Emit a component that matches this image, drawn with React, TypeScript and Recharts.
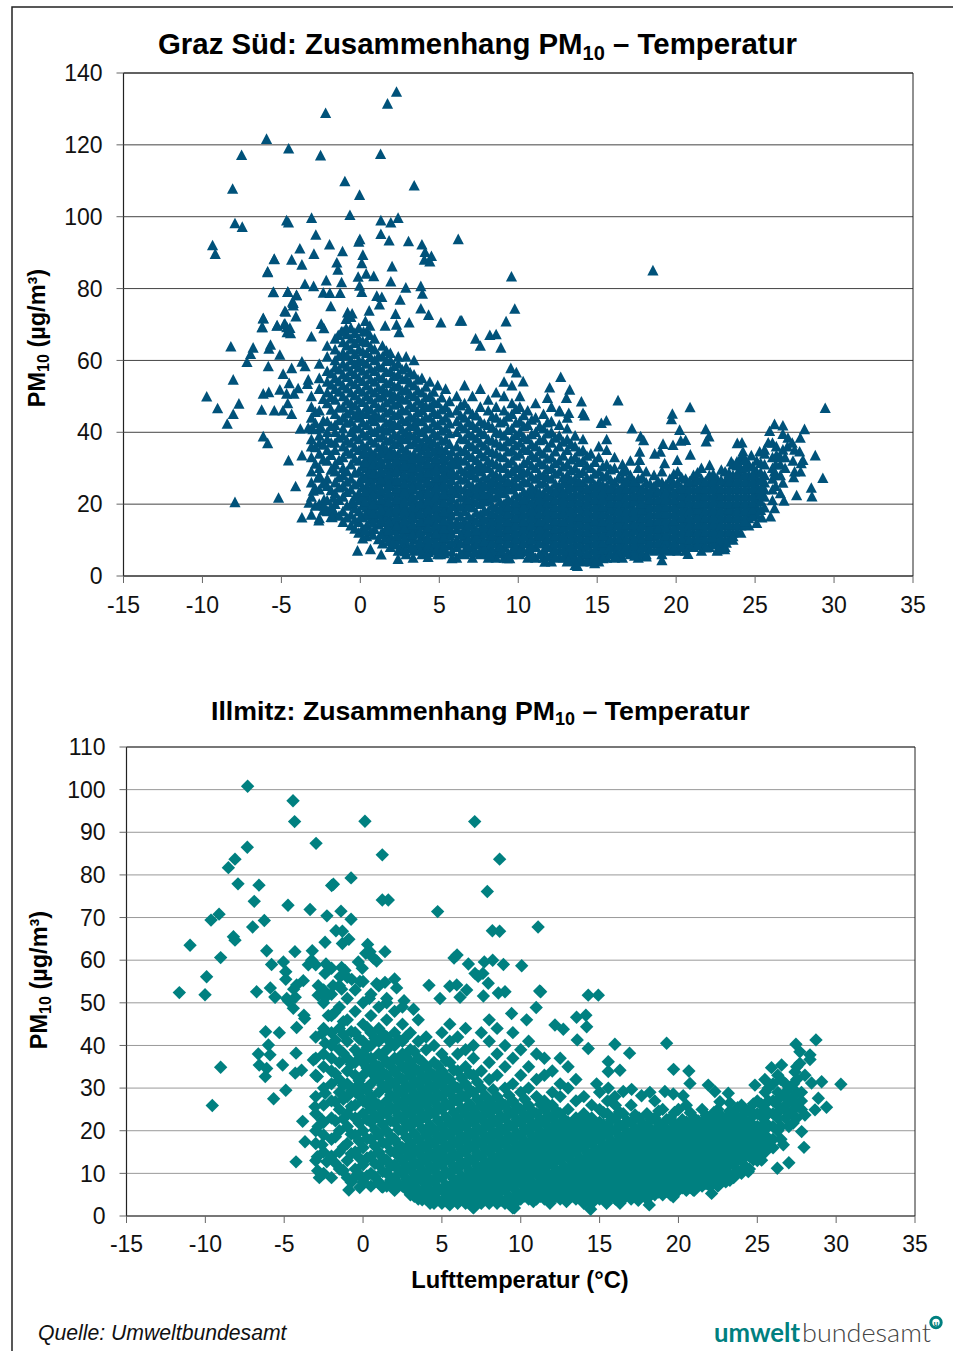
import React from "react";
import { ScatterChart, Scatter, XAxis, YAxis, CartesianGrid, ReferenceLine } from "recharts";

type Pair = [number, number];

const xTicks = [-15, -10, -5, 0, 5, 10, 15, 20, 25, 30, 35];
const grazYTicks = [0, 20, 40, 60, 80, 100, 120, 140];
const illmitzYTicks = [0, 10, 20, 30, 40, 50, 60, 70, 80, 90, 100, 110];

const grazUpper: Pair[] = [
  [2.29,134.7],[1.72,131.4],[-2.2,128.8],[-5.94,121.6],[-4.54,118.9],[-7.52,117.1],[-2.52,117],[1.28,117.4],
  [-8.09,107.7],[-0.98,109.8],[3.41,108.6],[-0.05,106],[-7.94,98.1],[-7.48,97.1],[-4.67,98.9],[-4.55,98.3],
  [-3.09,99.6],[-0.66,100.4],[1.3,98.9],[1.93,98.3],[2.39,99.6],[-9.36,92],[-9.19,89.6],[-2.82,94.9],
  [-0.03,93.7],[-0.1,93],[1.3,95.1],[1.82,93.3],[-1.95,92.2],[-3.83,91.1],[-2.94,89.6],[-1.13,90.3],
  [0.16,89.3],[0.09,87],[-1.49,87.2],[-1.42,85.2],[-5.46,88.1],[-4.35,88],[-3.7,86.6],[-5.87,84.5],
  [2.01,86.1],[0.37,84.1],[0.85,83.4],[-0.14,83.2],[-2.16,82.2],[-1.19,81.7],[1.93,81.9],[-3.51,81.2],
  [-2.96,80.6],[-0.05,80.7],[2.88,80.2],[3.83,80.6],[3.93,78.5],[-5.5,79],[-4.59,79],[-2.35,78.8],
  [-1.93,78.7],[-1.28,78.7],[0.09,79],[-4.04,78.1],[1.04,77.9],[1.36,77.6],[2.52,76.8],[1.21,75.5],
  [-4.29,76.3],[-4.25,75.2],[-1.87,75],[3.83,74.4],[-4.78,73.7],[-0.81,73.3],[-0.52,73],[0.56,73.8],
  [2.23,72.9],[4.32,72.6],[-4.08,72.2],[-6.15,71.6],[-6.23,69.2],[6.32,71],[6.42,71],[-0.9,71.5],
  [3.09,70.5],[-2.48,70.1],[-2.31,68.9],[-5.27,69.7],[-4.82,70.1],[-4.66,69.2],[-4.64,67.8],[1.57,69.6],
  [2.29,69.9],[2.45,67.8],[0.32,70.9],[0.6,69.6],[0.2,68],[0.6,67],[-0.9,68.9],[-1.2,68],[-1.4,67],[-3.1,66.6],
  [3.05,93.1],[4.1,90.1],[4.05,88],[4.4,87.5],[3.9,92.2],[6.2,93.7],[9.57,83.3],[9.78,74.3],[9.23,70.8],
  [18.53,85],[4.5,89],[5.1,70.5],[7.3,66],[8.2,67],[8.6,67.2],[7.6,64],[8.9,63.5],
];

const grazLeft: Pair[] = [
  [-8.2,63.8],[-6.79,63.5],[-6.95,61.7],[-7.18,59.5],[-5.69,64.3],[-5.79,63.2],[-5.1,61.5],[-6.15,71.7],
  [-6.2,69.2],[-5.28,69.6],[-4.77,70.1],[-4.46,69],[-4.42,67.5],[-4.73,73.5],[-4.25,75.9],[-5.52,78.9],
  [-4.6,79],[-4.04,78.1],[-5.87,84.7],[-5.45,88.2],[-5.83,58.3],[-8.05,54.6],[-9.73,49.9],[-9.04,46.6],
  [-7.69,47.9],[-8.05,45],[-8.43,42.3],[-6.15,50.7],[-5.8,51.1],[-6.25,46.2],[-5.45,46],[-5.1,51.8],
  [-4.89,56.2],[-4.51,53.6],[-4.67,50.7],[-3.94,52.2],[-4.2,50.7],[-4.9,46],[-4.6,48],[-4.35,45],
  [-4.35,57.8],[-3.5,58.3],[-3.7,59.6],[-3.3,54.6],[-3.35,53.4],[-6.15,38.8],[-5.87,36.9],[-4.55,32.1],
  [-3.7,33.5],[-4.1,24.9],[-5.18,21.7],[-7.94,20.5],[-3.25,20.3],[-3.7,16.2],[-2.63,15.4],[-0.18,7],
  [0.64,7.4],[1.32,5.9],[2.39,4.7],[3.34,5],[4.29,5.2],[5.08,6],[5.8,4.9],[7.2,6.5],[8.16,5.9],[9.3,4.9],
  [2.84,6.8],[2.05,8.9],[0.3,12.7],[0,16.3],[-1.72,18.4],[-1.78,16.3],[-2.3,21.2],[-2.3,19.5],[-2.98,23.7],
  [-2.67,27.3],[-1.7,21.7],[-0.44,20.3],[-3.8,40.9],[-3.3,41.2],[-3,40.8],[-2.5,41.5],
];

const grazRight: Pair[] = [
  [9.53,57.8],[9.88,56.6],[10.31,54.1],[12.69,55.3],[11.99,52.4],[11.85,49.5],[13.26,51.8],[13.05,49.5],
  [14,48.5],[14.1,45.3],[14.2,44.6],[16.32,48.8],[12.65,45.7],[13.2,45.3],[15.58,43.2],[15.26,42.5],
  [19.76,45.1],[19.7,43.6],[20.88,46.9],[17.2,41],[17.75,38.8],[17.94,37.7],[20.22,40.6],[20.6,37.8],
  [20.29,37.6],[21.87,40.8],[22.08,38.8],[21.9,37.4],[20.9,33.7],[19.17,36.7],[19.8,36.4],[18.64,34],
  [19,34.5],[19.27,31.3],[20.07,32.2],[17.69,34.5],[17.69,32.2],[22.12,30.8],[22.86,29.5],[23.28,27.8],
  [23.87,36.9],[24.17,37.1],[24.23,34.6],[23.49,31.8],[23.85,31.8],[24.34,32.2],[24.76,33.5],[25.29,34.6],
  [25.6,35.1],[25.92,40.3],[26.23,42.2],[26.76,41.8],[26.76,39.5],[27.08,38.4],[28.13,40.8],[27.86,38.4],
  [25.83,37.1],[26.34,36],[26.76,35.1],[27.5,35.1],[27.82,34.6],[28.03,32.2],[27.92,31.3],[28.81,33.5],
  [29.44,46.7],[29.29,27.2],[27.5,29],[27.88,29],[27.44,27.4],[26.76,25.9],[26.23,29],[28.56,24.5],[28.6,22.1],
  [27.63,22.4],[26.83,20.9],[26.23,18.8],[25.98,16.5],[25.43,16.2],[25.1,14.7],[24.34,15.2],[23.6,11],
  [23.18,9.2],[23.07,7.4],[22.65,7.4],[21.91,7.9],[20.75,6.1],[19.1,4.3],[19.27,7.5],[18.11,5.4],[17.37,5.6],
  [13.75,2.7],[14.84,3.5],[15.37,4.9],[16.2,5.3],[13.16,4.3],[11.68,3.9],[10.94,5.4],[10.1,6.6],[9.46,4.9],[8.94,7],
  [26.3,25],[26.3,28],[26.3,31],[26.35,33.6],[26.9,30],[26.9,33],[27.05,36],[27.4,32],[27.35,37],
];

const grazColumnTemps = [
  -3.1,-2.6,-2.1,-1.6,-1.1,-0.6,-0.1,0.4,0.9,1.4,1.9,2.4,2.9,3.4,3.9,4.4,4.9,5.4,
  6.1,6.6,7.1,7.6,8.1,8.6,9.1,9.6,10.1,10.6,11.1,11.6,12.1,12.6,13.1,13.6,14.1,14.6,
  15.1,15.6,16.1,16.6,17.1,17.6,18.1,18.6,19.1,19.6,20.1,20.6,21.1,21.6,22.1,22.6,23.1,23.6,
  24.1,24.6,25.1,25.6,26.1,26.6,
];
const grazColumnValues: number[][] = [
  [17,22,26,29,33,36,38,41,44,47,50],
  [16,20,24,28,30,34,37,39,41,46,52,55,59],
  [18,21,25,27,32,35,38,40,43,48,51,54,57,61,64],
  [17,20,23,26,29,31,35,37,40,42,45,49,52,55,58,60,63,66],
  [15,18,22,25,28,30,33,36,39,41,44,47,50,53,56,59,62,65,68],
  [14,17,20,24,27,31,34,37,40,43,46,48,51,54,57,60,63,66,69,72],
  [12,15,18,21,23,26,29,32,35,38,41,44,46,49,52,55,58,60,63,66,69],
  [11,14,17,19,22,25,28,30,33,36,39,42,45,47,50,53,56,59,62,65,68],
  [13,16,18,21,24,27,29,32,34,37,40,43,45,48,51,54,57,60,63,66],
  [9,12,15,17,20,23,26,28,31,34,36,39,41,44,47,50,52,55,58,61,64],
  [8,11,14,16,19,22,25,27,30,33,35,38,41,43,46,49,51,54,57,60,62],
  [7,10,13,15,18,20,23,26,29,31,34,37,39,42,45,48,50,53,56,59,61],
  [6,9,12,14,17,19,22,24,27,30,32,35,38,40,43,46,49,52,55,58,61],
  [7,10,13,16,18,21,24,26,29,31,34,37,39,42,44,47,50,53,56,60],
  [6,8,11,14,16,19,21,24,27,29,32,35,37,40,43,46,48,51,55],
  [7,9,12,15,17,20,22,25,28,30,33,36,38,41,44,47,50,54],
  [6,8,11,13,16,18,21,23,26,28,31,34,36,39,42,45,48,53],
  [7,10,12,14,17,19,22,24,27,29,32,35,38,41,44,47,52],
  [5,8,10,13,15,18,20,23,25,28,31,33,36,40,43,46,50],
  [6,7,9,11,13,15,18,20,22,24,27,29,32,35,38,41,44,48,53],
  [5,8,10,12,14,16,19,21,23,25,28,30,33,36,39,42,45,50],
  [6,7,9,11,13,15,17,20,22,24,26,29,31,34,37,40,43,47,52],
  [5,8,10,12,14,16,18,21,23,25,27,30,32,35,38,42,46,49],
  [5,7,9,11,13,15,17,19,22,24,26,28,31,34,37,40,44,47,51],
  [5,8,10,12,14,16,18,20,23,25,27,30,33,36,39,43,46,50,54],
  [6,7,9,11,13,15,17,19,21,24,26,29,32,35,38,41,45,48,53],
  [6,8,10,12,14,16,18,20,22,25,28,30,34,37,40,43,47,50],
  [5,7,9,11,13,15,17,19,21,23,26,29,32,35,38,42,46],
  [5,8,10,12,14,16,18,20,22,24,27,30,33,36,40,44,48],
  [5,7,9,11,13,15,17,19,21,23,26,28,31,34,38,41,45],
  [4,6,8,10,12,14,16,18,20,22,24,27,30,33,37,40,43,47],
  [5,7,9,11,13,15,17,19,21,23,25,29,32,36,39,42,46],
  [4,6,8,10,12,14,16,18,20,22,24,26,28,31,35,38,41,44],
  [3,5,7,9,11,13,15,17,19,21,23,25,27,30,33,36,39],
  [4,6,8,10,12,14,16,18,20,22,24,26,29,32,35,38],
  [4,5,7,9,11,13,15,17,19,21,23,25,27,30,34],
  [4,6,8,10,12,14,16,18,20,22,24,26,29,33,36],
  [5,7,9,11,13,15,17,19,21,23,25,28,31,35,38],
  [5,6,8,10,12,14,16,18,20,22,24,26,30,33],
  [5,7,9,11,13,15,17,19,21,23,25,27,29,31],
  [6,8,10,12,14,16,18,20,22,24,26,28,32],
  [5,7,9,11,13,15,17,19,21,23,25,27,30],
  [6,8,10,12,14,16,18,20,22,24,26,29],
  [7,9,11,13,15,17,19,21,23,25,28],
  [6,8,10,12,14,16,18,20,22,24,26,29],
  [7,9,11,13,15,17,19,21,23,25,27],
  [7,8,10,12,14,16,18,20,22,24,26,29],
  [7,9,11,13,15,17,19,21,23,25,27],
  [8,10,12,14,16,18,20,22,24,26,28],
  [7,9,11,13,15,17,19,21,23,25,27,30],
  [8,10,12,14,16,18,20,22,24,26,28],
  [7,9,11,13,15,17,19,21,23,25,27],
  [8,10,12,14,16,18,20,22,24,26,29],
  [10,12,14,16,18,20,22,24,26,28,31],
  [12,14,16,18,20,22,24,26,28,30,33],
  [14,16,18,20,22,24,26,28,31],
  [17,19,21,23,25,27,29,32],
  [19,22,24,26,28,31,34],
  [21,24,27,30,33,37],
  [23,28,31,33],
];

const grazInnerTemps = [
  -2.85,-2.35,-1.85,-1.35,-0.85,-0.35,0.15,0.65,1.15,1.65,2.15,2.65,3.15,3.65,4.15,4.65,5.15,5.65,
  6.35,6.85,7.35,7.85,8.35,8.85,9.35,9.85,10.35,10.85,11.35,11.85,12.35,12.85,13.35,13.85,14.35,14.85,
  15.35,15.85,16.35,16.85,17.35,17.85,18.35,18.85,19.35,19.85,20.35,20.85,21.35,21.85,22.35,22.85,23.35,23.85,
  24.35,24.85,25.35,
];
const grazInnerValues: number[][] = [
  [19.5,24.3,31.2,35.8,42.5,45.6],
  [18.2,25.7,32.4,36.5,43.1,49.2],
  [16.4,19.2,23.8,29.5,33.6,37.1,41.7,46.2,49.8,53.2,56.3],
  [16.7,21.1,24.6,27.4,32.2,38.4,43.3,46.8,51.2,54.1,57.4,61.2],
  [16.2,19.5,23.3,26.2,29.1,34.7,37.6,42.6,45.2,48.7,52.1,55.3,58.2,61.3,64.1,67.2],
  [13.1,15.6,18.8,22.1,25.4,28.7,32.6,35.8,38.7,41.4,44.6,47.4,50.2,53.3,56.1,58.9,61.7,64.8,67.6],
  [10.4,13.2,16.3,19.6,22.2,24.7,27.6,30.5,33.8,36.4,39.6,42.7,45.1,48.4,51.2,54.2,57.1,59.7,62.4,65.3],
  [12.4,15.6,18.2,20.7,23.6,26.4,29.3,31.8,34.6,37.7,40.6,43.4,46.2,49.1,51.8,54.7,57.6,60.8,63.7],
  [10.2,14.3,17.2,19.7,22.8,25.4,28.1,30.7,33.2,35.7,38.5,41.2,44.3,46.8,49.6,52.4,55.4,58.4,61.2],
  [10.6,13.4,16.2,18.7,21.6,24.3,27.2,29.6,32.6,35.2,37.6,40.4,42.6,45.4,48.2,51.1,53.6,56.7,59.8,62.6],
  [9.2,12.6,15.2,17.6,20.3,23.4,26.2,28.7,31.4,34.2,36.7,39.4,42.2,44.7,47.6,50.2,52.7,55.6,58.4],
  [8.4,11.6,14.3,16.6,19.2,21.7,24.6,27.3,30.2,32.7,35.6,38.3,40.7,43.4,46.2,49.3,51.6,54.7,57.4],
  [7.6,10.7,13.2,15.6,18.2,20.6,23.3,25.7,28.6,31.2,33.6,36.6,39.2,41.7,44.4,47.6,50.6,53.7,56.6],
  [8.6,11.7,14.4,17.2,19.7,22.4,25.2,27.6,30.3,32.8,35.7,38.2,40.6,43.2,45.6,48.7,51.6,54.6],
  [7.3,9.6,12.7,15.2,17.7,20.2,22.7,25.6,28.3,30.7,33.4,36.2,38.6,41.4,44.2,47.2,49.7,52.6],
  [8.2,10.6,13.4,16.2,18.6,21.2,23.6,26.4,29.2,31.6,34.6,37.2,39.7,42.6,45.6,48.4,51.2],
  [7.1,9.6,12.2,14.6,17.2,19.6,22.3,24.6,27.2,29.6,32.4,35.2,37.6,40.4,43.2,46.3,49.6],
  [8.6,11.2,13.3,15.6,18.2,20.7,23.2,25.6,28.3,30.6,33.4,36.7,39.7,42.4,45.4,48.6],
  [6.3,9.1,11.4,14.2,16.6,19.2,21.7,24.2,26.7,29.6,32.2,34.7,38.2,41.7,44.6,47.4],
  [6.6,8.2,10.2,12.3,14.4,16.7,19.4,21.3,23.4,25.7,28.4,30.6,33.6,36.7,39.6,42.7,46.3],
  [6.4,8.7,10.8,12.7,15.3,17.6,20.4,22.6,24.6,27.3,29.7,32.2,35.3,38.2,41.2,44.6],
  [6.2,7.6,9.6,11.7,13.6,15.8,18.3,20.7,22.7,25.3,27.6,30.2,33.2,36.2,39.4,42.3],
  [5.6,7.2,9.4,11.3,13.3,15.4,17.4,19.6,21.7,24.3,26.4,28.7,31.6,34.4,37.6,41.3,44.4],
  [6.2,8.2,10.3,12.4,14.3,16.4,18.6,20.7,23.2,25.4,27.6,30.3,33.2,36.3,39.7,42.7],
  [6.4,9.2,11.3,13.2,15.2,17.3,19.2,21.4,24.2,26.3,28.6,31.4,34.6,37.4,40.6,44.3],
  [7.1,8.3,10.3,12.2,14.4,16.3,18.4,20.3,22.6,25.2,27.4,30.3,33.4,36.3,39.2,42.6,46.4],
  [6.8,9.2,11.2,13.3,15.2,17.2,19.3,21.3,23.4,26.4,28.7,31.4,35.4,38.6,41.6,44.7],
  [6.3,8.3,10.2,12.2,14.3,16.4,18.3,20.4,22.6,24.7,27.6,30.7,33.6,36.6,39.4,43.4],
  [6.1,9.2,11.3,13.3,15.2,17.3,19.4,21.4,23.2,25.6,28.3,31.6,34.7,37.7,41.6],
  [5.4,8.2,10.3,12.2,14.2,16.4,18.2,20.3,22.3,24.6,27.4,29.7,32.6,35.7,39.6,42.7],
  [5.2,7.3,9.3,11.3,13.2,15.3,17.3,19.2,21.2,23.4,25.6,28.4,31.3,34.6,38.4],
  [5.1,7.2,9.4,11.2,13.4,15.2,17.4,19.3,21.4,23.3,25.7,27.4,30.4,33.4,37.3],
  [4.2,6.2,8.3,10.4,12.3,14.3,16.2,18.2,20.3,22.3,24.6,26.7,29.4,32.4,36.7],
  [4.6,6.7,8.7,10.6,12.6,14.7,16.6,18.7,20.6,22.6,24.8,26.3,28.6,31.7,34.6],
  [4.3,6.3,8.4,10.3,12.4,14.3,16.3,18.2,20.4,22.2,24.4,27.3,30.6,33.4],
  [5.2,7.2,9.3,11.2,13.2,15.3,17.2,19.3,21.3,23.3,25.4,28.4,31.7],
  [5.3,7.4,9.2,11.3,13.4,15.2,17.3,19.2,21.4,23.2,25.3,27.6,30.4],
  [6.2,8.3,10.2,12.4,14.3,16.2,18.4,20.3,22.3,24.4,26.7,29.6],
  [6.3,8.4,10.3,12.2,14.4,16.3,18.3,20.4,22.4,24.3,27.3],
  [6.4,8.3,10.4,12.3,14.2,16.4,18.2,20.3,22.2,24.2,26.4,29.3],
  [6.7,8.6,10.4,12.6,14.4,16.6,18.3,20.6,22.4,24.6,26.3],
  [6.2,8.4,10.3,12.2,14.3,16.3,18.4,20.2,22.3,24.3,27.4],
  [7.3,9.3,11.3,13.3,15.2,17.2,19.3,21.3,23.3,25.6],
  [7.4,9.2,11.4,13.2,15.3,17.3,19.4,21.2,23.4,26.4],
  [7.3,9.4,11.3,13.4,15.4,17.4,19.2,21.4,23.3,25.4],
  [7.6,9.3,11.2,13.3,15.3,17.2,19.3,21.3,23.2,25.7,28.3],
  [8.2,10.3,12.2,14.3,16.3,18.2,20.3,22.4,24.4,27.4],
  [8.4,10.2,12.4,14.4,16.2,18.3,20.4,22.2,24.3,26.3],
  [8.6,10.4,12.3,14.2,16.4,18.4,20.2,22.3,24.2,26.6,28.7],
  [8.2,10.3,12.4,14.3,16.3,18.2,20.3,22.4,24.4,26.3],
  [8.7,10.6,12.3,14.4,16.2,18.3,20.4,22.2,24.3,26.4,28.3],
  [8.4,10.4,12.2,14.3,16.4,18.2,20.3,22.3,24.2,26.6],
  [10.2,12.4,14.2,16.3,18.4,20.2,22.4,24.3,26.3,28.6],
  [12.3,14.3,16.4,18.2,20.3,22.2,24.4,26.4,28.4,30.7],
  [14.2,16.3,18.3,20.4,22.3,24.2,26.3,28.3,30.2,32.6],
  [16.6,18.4,20.3,22.2,24.4,26.4,28.3,30.4],
  [18.3,20.6,22.7,24.3,26.6,28.7,31.4],
];

const grazCoreTemps = [0.3,0.8,1.3,1.8,2.3,2.8,3.3,3.8,4.3,4.8,5.3,5.8];
const grazCoreValues: number[][] = [
  [12.6,16.8,20.6,23.4,27.1,31.6,34.4],
  [11.4,14.8,17.3,19.8,22.6,25.3,28.4,30.9,33.5],
  [11.6,15.2,18.6,21.3,23.9,26.7,29.2,31.7,34.3],
  [9.6,12.7,15.1,17.8,20.6,23.2,25.7,28.3,31.2,33.7],
  [8.7,11.3,13.9,16.5,18.9,21.3,24.2,26.6,29.3,32.4],
  [7.8,10.4,13.2,15.4,18.3,20.8,23.6,25.6,28.2,30.8,33.4],
  [8.3,11.4,14.2,16.8,19.3,22.2,24.7,27.6,30.1,32.6],
  [7.1,9.4,12.3,15.2,17.4,20.1,22.6,25.3,28.2,30.4,33.2],
  [6.6,8.7,10.4,13.4,15.8,18.6,21.1,23.3,26.2,28.7,31.2,34.4],
  [7.2,9.3,11.7,14.4,16.9,19.4,22.2,24.7,27.3,29.7,32.6],
  [6.3,8.4,10.7,13.2,15.3,17.8,20.3,22.7,25.4,27.8,30.4,33.2],
  [6.7,9.2,11.8,14.3,16.7,19.4,21.6,24.1,26.6,29.2,31.7,34.6],
];

const illmitzUpper: Pair[] = [
  [-7.32,100.8],[-4.44,97.4],[-4.34,92.5],[0.12,92.6],[7.08,92.5],[-2.98,87.4],[-7.34,86.5],[1.22,84.7],
  [8.66,83.7],[-8.12,83.7],[-8.54,81.7],[-0.76,79.3],[-7.93,77.9],[-6.6,77.6],[-1.99,77.5],[-1.88,77.8],
  [7.88,76.1],[-6.9,73.8],[-4.76,72.9],[-3.36,71.9],[-1.4,71.5],[1.22,74.1],[1.6,74.1],[4.73,71.4],
  [-2.29,70.4],[-0.76,69.6],[-6.26,69.3],[-9.13,70.8],[-9.64,69.4],[-7,67.8],[-8.22,65.5],[-8.12,64.7],
  [-1.72,66.9],[-1.31,66.8],[8.2,66.9],[8.66,66.8],[-0.9,64.9],[-1.31,63.9],[-2.41,64.2],[-10.97,63.5],
  [0.29,63.7],[0.44,62],[0.17,61.6],[0.65,60.5],[1.39,62],[-6.11,62.2],[-4.32,62],[-3.22,62.2],[5.96,61.2],
  [5.77,60.5],[-9.03,60.6],[-5.8,59],[-5.05,59.6],[-3.26,60],[-3.47,58.9],[-3,58.9],[-2.35,59.1],[-2,58.1],
  [-2.41,56.9],[-1.36,58.3],[-1.15,57.6],[-1.46,56.1],[-0.3,59.6],[-0.05,58.1],[0.86,59.8],[6.68,59.1],
  [7.69,59.6],[8.22,60],[8.9,59],[10.06,58.7],[7.1,56.9],[7.3,56.2],[7.6,56.9],[-4.9,57.3],[-4.9,55.5],
  [-9.92,56.1],[-3.79,55.2],[-4.21,54.2],[-4.4,53.2],[-0.72,55.5],[-0.2,55],[2,55.6],[1.39,54.8],[2.13,53.5],
  [0.86,54.5],[4.18,54.1],[-6.75,52.6],[-5.88,53.5],[-11.65,52.4],[-10.02,51.9],[-2.84,54],[-1.9,54],[-1.36,53.2],
  [5.5,53.9],[5.94,54.2],[6.57,53],[7.94,54.6],[9,52.6],[8.58,52.3],[4.88,51],[6.15,51.3],[7.63,51.6],[-5.58,51.4],
  [-4.84,51],[-4.3,51.3],[-2.85,51.8],[-2.4,51.2],[0.4,51],[1.5,51],[2.6,50.5],[3.2,48.5],[11.1,67.8],[11.2,52.8],
];

const illmitzLeft: Pair[] = [
  [-5.58,51.3],[-4.74,50.5],[-4.42,48.7],[-3.75,47.1],[-3.7,46.3],[-4.21,44.2],[-6.18,43.2],[-5.31,43],[-6,40.1],
  [-6.64,38],[-5.9,37.8],[-4.25,38.2],[-6.58,35.4],[-6.11,34.6],[-5.1,35.4],[-6.2,32.7],[-9.03,34.9],[-9.56,25.9],
  [-4.9,29.5],[-5.67,27.5],[-3.83,22.2],[-3.68,17.4],[-4.25,12.7],[-2.88,10.6],[-2.77,9],[-0.9,6.1],[-0.21,6.7],
  [-2.6,42.8],[-2.4,40.5],[-2.2,47],[-1.8,47.7],[-1.25,45.6],[-3.15,36.6],[-3.9,34.2],[-4.3,33.5],[-2.9,32.7],
  [-2.4,28.8],[-3.05,25.6],[-2.6,22.5],[-2.85,21],[-2.6,16.7],[-2.9,13.9],[-2.3,12.7],[-1.35,10.8],[-0.5,9.2],
  [1.18,6.9],[1.8,7.7],[3.3,4.9],[4.25,3],[5.5,2.6],[7,1.9],[8.5,3],[9.6,1.9],
];

const illmitzRight: Pair[] = [
  [14.28,51.8],[14.92,51.8],[11.26,52.6],[10.98,48.9],[9.42,47.5],[10.37,46],[13.54,46.6],[14.13,47.1],[14.18,44.4],
  [12.17,44.8],[12.7,43.8],[13.58,41.3],[14.28,39.3],[15.97,40.3],[19.25,40.5],[16.9,38.2],[15.55,36.2],[16.29,34.2],
  [15.55,33.9],[19.69,34.4],[20.66,34],[28.72,41.3],[27.45,40.3],[27.7,38.5],[28.34,37.8],[28.34,36.7],[27.7,35.8],
  [26.54,35.4],[25.9,34.8],[25.48,32],[24.85,30.7],[30.3,30.9],[29.08,31.5],[28.44,31.2],[28.02,33],[27.39,33.8],
  [21.89,30.7],[20.73,31.1],[22.31,29.2],[23.16,28.8],[22.63,26.8],[23.26,26.5],[19.14,29.2],[18.19,29],[17.66,28.2],
  [17.03,29.7],[14.81,31],[15.55,30],[15.97,28],[16.5,29.2],[19.67,28.6],[20.3,28.2],[28.87,27.6],[29.39,25.5],
  [28.66,24.9],[28.02,23.7],[27.28,21.8],[27.81,19.8],[27.96,16.1],[27,12.5],[26.27,11.2],[26.65,16.7],[25.27,13.1],
  [24.43,10.4],[23.26,8.4],[22.1,5.3],[20.94,6.1],[19.67,4.5],[18.15,2.6],[17.45,3.7],[16.29,3],[15.44,3],[14.43,1.6],
  [12.9,3.4],[11.85,3],[10.8,3.4],[9.5,1.9],
  [25.7,21],[25.7,24],[25.7,27],[25.7,30],[26.3,20],[26.3,23],[26.3,26],[26.3,29],[26.3,33],[26.8,23],[26.8,26],[26.8,29],[26.8,31],
  [27.3,25],[27.3,28],[27.3,31],[27.8,25],[27.8,27],[27.8,29],
];

const illmitzColumnTemps = [
  -3,-2.5,-2,-1.5,-1,-0.5,0,0.5,1,1.5,2,2.5,3,3.5,4,4.5,5,5.5,6,6.5,7,7.5,8,8.5,9,9.5,10,10.5,11,11.5,
  12,12.5,13,13.5,14,14.5,15,15.5,16,16.5,17,17.5,18,18.5,19,19.5,20,20.5,21,21.5,22,22.5,23,23.5,24,24.5,
  25,25.5,26,26.5,27,27.5,
];
const illmitzColumnValues: number[][] = [
  [13,17,20,24,28,33,37,42],
  [10,15,19,22,26,30,35,38,44,50,53],
  [9,14,18,23,27,31,34,37,40,43,47,52],
  [11,15,20,25,29,32,36,39,44,49,54],
  [9,13,17,21,24,28,31,34,37,41,46,51,56],
  [11,15,19,23,26,30,33,36,39,43,48,53],
  [8,12,16,20,24,27,30,33,36,38,41,45,50,55],
  [7,10,14,18,22,25,28,31,34,37,40,43,47,52],
  [8,12,15,19,23,26,29,32,35,38,41,44,49,54],
  [7,10,13,17,20,24,27,30,33,36,39,42,46,50],
  [6,9,12,15,18,22,25,28,31,34,37,40,43,48],
  [7,10,13,16,20,23,26,29,32,35,38,41,45,49],
  [5,8,11,14,17,21,24,27,30,33,36,39,43],
  [4,6,9,12,15,18,22,25,28,31,34,37,41,46],
  [4,7,10,13,16,19,23,26,29,32,35,39,42],
  [3,5,8,11,14,17,20,24,27,30,33,36,40],
  [3,6,9,12,15,18,21,25,28,31,34,38,43],
  [3,5,7,10,13,16,19,22,26,29,32,36,41,45],
  [3,6,8,11,14,17,20,23,27,30,34,38,42],
  [3,5,7,9,12,15,18,21,24,28,31,35,39,44],
  [2,4,6,8,10,13,16,19,22,25,29,33,37,40],
  [3,5,7,9,11,14,17,20,23,26,30,34,43],
  [3,6,8,10,12,15,18,21,24,27,32,36,41,46],
  [4,5,7,9,11,13,16,19,22,25,28,33,38,44],
  [3,6,8,10,12,14,17,20,23,26,30,35,40],
  [2,4,7,9,11,13,15,18,21,24,27,31,37,43],
  [4,5,8,10,12,14,16,19,22,25,29,33,39],
  [4,6,9,11,13,15,17,20,23,26,30,35,41],
  [4,5,7,10,12,14,16,18,21,24,28,32,38],
  [4,6,8,11,13,15,17,19,22,25,27,33,37],
  [4,5,7,9,12,14,16,18,20,23,26,29,34],
  [4,6,8,10,13,15,17,19,21,24,28,31,37],
  [4,5,7,9,11,14,16,18,20,22,25,30,35],
  [4,6,8,10,12,15,17,19,21,23,27,32],
  [3,5,7,9,11,13,16,18,20,22,24,28],
  [3,6,8,10,12,14,17,19,21,23,26],
  [4,5,7,9,11,13,15,18,20,22,25,29],
  [4,6,8,10,12,14,16,19,21,24,27],
  [4,5,7,9,11,13,15,17,20,23,26],
  [4,6,8,10,12,14,16,18,21,24],
  [4,5,7,9,11,13,15,17,19,22,26],
  [4,6,8,10,12,14,16,18,20,23],
  [4,5,7,9,11,13,15,17,19,21,24],
  [5,6,8,10,12,14,16,18,20,23,27],
  [5,7,9,11,13,15,17,19,21,25],
  [5,6,8,10,12,14,16,18,20,23],
  [6,7,9,11,13,15,17,19,21,25],
  [6,8,10,12,14,16,18,20,22,26],
  [6,7,9,11,13,15,17,19,21,23],
  [7,8,10,12,14,16,18,20,22,25],
  [7,9,11,13,15,17,19,21,23],
  [7,10,12,14,16,18,20,22,25],
  [8,11,13,15,17,19,21,23],
  [9,12,14,16,18,20,22,24],
  [10,13,15,17,19,21,23,26],
  [11,14,16,18,20,22,25],
  [13,15,17,19,21,24,27],
  [15,17,19,22,25,29],
  [16,18,21,24,27,31],
  [18,21,25,28,32],
  [21,24,27,30],
  [23,26,29,32,35],
];

const illmitzInnerTemps = [
  -1.75,-1.25,-0.75,-0.25,0.25,0.75,1.25,1.75,2.25,2.75,3.25,3.75,4.25,4.75,5.25,5.75,6.25,6.75,7.25,7.75,
  8.25,8.75,9.25,9.75,10.25,10.75,11.25,11.75,12.25,12.75,13.25,13.75,14.25,14.75,15.25,15.75,16.25,16.75,
  17.25,17.75,18.25,18.75,19.25,19.75,20.25,20.75,21.25,21.75,22.25,22.75,23.25,23.75,24.25,24.75,25.25,
];
const illmitzInnerValues: number[][] = [
  [12.4,18.6,22.3,26.8,33.4,41.2],
  [10.7,16.2,22.8,27.4,30.6,38.2,42.5],
  [7.9,14.6,19.2,25.7,29.3,35.6,43.2],
  [9.8,13.7,17.6,21.8,28.2,31.7,37.8,41.6],
  [9.4,13.6,18.1,22.6,26.3,29.4,34.7,39.4,44.2],
  [9.2,12.3,16.4,20.2,23.6,26.7,32.8,35.6,41.7],
  [6.8,10.4,13.7,17.2,21.4,24.7,30.6,33.7,37.2,42.8],
  [8.4,11.6,15.2,18.7,22.3,25.6,28.4,31.6,35.2,40.7],
  [7.6,10.8,14.1,16.7,20.3,23.6,26.8,29.6,32.8,36.4,41.4],
  [6.2,8.7,11.8,15.1,18.4,21.7,24.8,27.7,30.6,34.2,37.3,42.1],
  [4.6,7.2,9.8,12.6,15.7,19.3,22.7,25.8,28.6,31.7,34.8,38.6],
  [3.8,5.6,8.3,10.7,13.8,16.6,20.4,23.7,26.8,29.7,32.6,36.2],
  [3.4,5.9,8.6,11.7,14.7,17.6,21.3,24.6,27.8,30.7,33.7],
  [3.8,6.7,9.6,12.8,15.6,18.7,22.4,25.7,28.6,31.8,35.2],
  [4.2,7.2,10.4,13.6,16.6,19.7,23.2,26.4,29.7,32.8,36.4],
  [4.4,6.4,8.7,11.6,14.6,17.6,20.8,24.3,27.6,30.6,34.2],
  [4.1,6.8,9.4,12.6,15.7,18.6,21.7,25.2,28.4,32.3],
  [3.6,6.2,8.4,10.6,13.4,16.7,19.6,22.8,26.2,29.7,33.4],
  [3.2,5.2,7.4,9.3,11.7,14.6,17.6,20.6,23.8,27.4,31.4],
  [4.2,6.4,8.4,10.3,12.6,15.7,18.7,21.8,24.9,28.2],
  [4.4,7.2,9.2,11.3,13.6,16.7,19.6,22.7,25.8,29.6],
  [3.7,6.3,8.2,10.2,12.3,14.6,17.7,20.6,23.4,26.7],
  [4.6,7.1,9.2,11.2,13.2,15.7,18.6,21.4,24.6,28.3],
  [3.4,5.7,8.3,10.3,12.3,14.4,16.7,19.4,22.6,25.7],
  [4.7,6.8,9.2,11.3,13.3,15.3,17.6,20.6,23.7,27.4],
  [5.2,7.7,10.2,12.3,14.3,16.2,18.7,21.6,24.6],
  [4.6,6.6,8.8,11.2,13.2,15.2,17.3,19.7,22.6,26.2],
  [5.4,7.3,9.7,12.2,14.2,16.3,18.4,20.8,23.6],
  [4.6,6.4,8.4,10.7,13.1,15.2,17.3,19.3,21.6,24.7],
  [5.2,7.2,9.2,11.6,14.2,16.2,18.3,20.2,22.7],
  [4.7,6.3,8.3,10.3,12.7,15.3,17.2,19.3,21.2],
  [4.4,7.2,9.3,11.3,13.6,16.2,18.2,20.3,22.4],
  [4.2,6.3,8.2,10.2,12.3,14.7,17.2,19.2,21.3],
  [4.6,7.2,9.2,11.2,13.2,15.6,18.3,20.2],
  [4.7,6.3,8.2,10.3,12.2,14.3,16.7,19.2,21.4,24.2],
  [5.4,7.2,9.3,11.2,13.3,15.2,17.6,20.3,22.6],
  [4.6,6.2,8.4,10.2,12.4,14.2,16.3,18.7,21.4,24.4],
  [5.3,7.3,9.2,11.3,13.2,15.4,17.2,19.6,22.3],
  [4.7,6.4,8.3,10.4,12.3,14.2,16.4,18.3,20.6,23.7],
  [5.2,7.2,9.3,11.2,13.4,15.3,17.4,19.2,21.6],
  [5.7,6.6,8.4,10.3,12.2,14.4,16.2,18.4,20.4,22.7],
  [5.6,7.3,9.2,11.4,13.3,15.2,17.3,19.3,21.7,24.6],
  [5.8,6.4,8.3,10.2,12.4,14.3,16.4,18.2,20.4,22.6],
  [6.3,7.3,9.4,11.3,13.2,15.4,17.2,19.4,21.6,24.3],
  [6.6,8.4,10.3,12.3,14.4,16.3,18.3,20.3,22.6],
  [6.7,7.6,9.3,11.4,13.2,15.3,17.4,19.2,21.4,24.2],
  [7.2,8.4,10.2,12.2,14.3,16.2,18.2,20.4,22.3],
  [7.6,9.3,11.3,13.3,15.4,17.3,19.4,21.2,23.6],
  [8.2,10.4,12.4,14.2,16.3,18.4,20.2,22.3,24.3],
  [8.8,11.3,13.2,15.3,17.2,19.3,21.3,23.4],
  [9.7,12.3,14.4,16.2,18.3,20.3,22.2,24.6],
  [10.7,13.3,15.2,17.3,19.2,21.2,23.3,25.4],
  [11.6,14.2,16.3,18.2,20.4,22.4,24.4],
  [13.2,15.3,17.4,19.2,21.3,23.6,26.3],
  [14.7,16.6,18.6,20.7,23.4,26.2],
];

const fromPairs = (pairs: Pair[]) => pairs.map(([t, pm]) => ({ t, pm }));
const fromColumns = (temps: number[], cols: number[][]) =>
  temps.flatMap((t, i) => cols[i].map((pm) => ({ t, pm })));

const grazData = [
  ...fromColumns(grazColumnTemps, grazColumnValues),
  ...fromColumns(grazInnerTemps, grazInnerValues),
  ...fromColumns(grazCoreTemps, grazCoreValues),
  ...fromPairs(grazUpper),
  ...fromPairs(grazLeft),
  ...fromPairs(grazRight),
];
const illmitzData = [
  ...fromColumns(illmitzColumnTemps, illmitzColumnValues),
  ...fromColumns(illmitzInnerTemps, illmitzInnerValues),
  ...fromPairs(illmitzUpper),
  ...fromPairs(illmitzLeft),
  ...fromPairs(illmitzRight),
];

const FONT = "'Liberation Sans', Arial, sans-serif";
const GRAZ_COLOR = "#00527a";
const ILLMITZ_COLOR = "#008080";

const Triangle = (p: any) => (
  <path d={`M${p.cx},${p.cy - 5.8}L${p.cx + 5.6},${p.cy + 4.8}L${p.cx - 5.6},${p.cy + 4.8}Z`} fill={GRAZ_COLOR} />
);
const Diamond = (p: any) => (
  <path d={`M${p.cx},${p.cy - 6.7}L${p.cx + 6.7},${p.cy}L${p.cx},${p.cy + 6.7}L${p.cx - 6.7},${p.cy}Z`} fill={ILLMITZ_COLOR} />
);

const tickStyle = { fontFamily: FONT, fontSize: 23, fill: "#111" };

function Panel(props: {
  top: number; height: number; margin: any; yWidth: number; data: any[]; shape: any; yMax: number; yTicks: number[]; grid: string; xMargin: number;
}) {
  const { top, height, margin, yWidth, data, shape, yMax, yTicks, grid, xMargin } = props;
  return (
    <div style={{ position: "absolute", left: 0, top, width: 953, height }}>
      <ScatterChart width={953} height={height} margin={margin}>
        <CartesianGrid vertical={false} horizontal stroke={grid} strokeWidth={1} />
        <XAxis
          type="number" dataKey="t" domain={[-15, 35]} ticks={xTicks} interval={0} height={40}
          tick={tickStyle} tickSize={7} tickMargin={xMargin}
          axisLine={{ stroke: "#222", strokeWidth: 1.2 }} tickLine={{ stroke: "#666" }}
        />
        <YAxis
          type="number" dataKey="pm" domain={[0, yMax]} ticks={yTicks} interval={0} width={yWidth}
          tick={tickStyle} tickSize={7} tickMargin={14}
          axisLine={{ stroke: "#222", strokeWidth: 1.2 }} tickLine={{ stroke: "#666" }}
        />
        <ReferenceLine y={yMax} stroke="#222" strokeWidth={1} />
        <ReferenceLine x={35} stroke="#222" strokeWidth={1} />
        <Scatter data={data} shape={shape} isAnimationActive={false} />
      </ScatterChart>
    </div>
  );
}

const YLabel = ({ x, y }: { x: number; y: number }) => (
  <text transform={`translate(${x},${y}) rotate(-90)`} textAnchor="middle" fontFamily={FONT} fontWeight="bold" fontSize={23.5} fill="#000">
    PM<tspan fontSize={16} dy={4}>10</tspan><tspan dy={-4}> (µg/m³)</tspan>
  </text>
);

export default function App() {
  return (
    <div style={{ position: "absolute", left: 0, top: 0, width: 953, height: 1351, background: "#fff", overflow: "hidden" }}>
      <Panel top={0} height={640} margin={{ top: 73, right: 40, bottom: 24, left: 0 }} yWidth={123.5}
        data={grazData} shape={Triangle} yMax={140} yTicks={grazYTicks} grid="#444" xMargin={14} />
      <Panel top={680} height={640} margin={{ top: 67, right: 38, bottom: 64, left: 0 }} yWidth={126.5}
        data={illmitzData} shape={Diamond} yMax={110} yTicks={illmitzYTicks} grid="#999" xMargin={13} />
      <svg width={953} height={1351} style={{ position: "absolute", left: 0, top: 0, pointerEvents: "none" }}>
        <path d="M12,1351V7H953" fill="none" stroke="#222" strokeWidth={1.5} />
        <text x={158} y={54} fontFamily={FONT} fontWeight="bold" fontSize={29.4} fill="#000">
          Graz Süd: Zusammenhang PM<tspan fontSize={20} dy={6}>10</tspan><tspan dy={-6}> – Temperatur</tspan>
        </text>
        <text x={211} y={720} fontFamily={FONT} fontWeight="bold" fontSize={26.7} fill="#000">
          Illmitz: Zusammenhang PM<tspan fontSize={18} dy={5}>10</tspan><tspan dy={-5}> – Temperatur</tspan>
        </text>
        <YLabel x={45} y={338} />
        <YLabel x={47} y={980} />
        <text x={520} y={1288} textAnchor="middle" fontFamily={FONT} fontWeight="bold" fontSize={23.7} fill="#000">Lufttemperatur (°C)</text>
        <text x={38} y={1340} fontFamily={FONT} fontStyle="italic" fontSize={21.2} fill="#111">Quelle: Umweltbundesamt</text>
        <text x={714} y={1342} fontFamily="Lato, 'Open Sans', sans-serif" fontWeight="bold" fontSize={26} fill={ILLMITZ_COLOR} textLength={86} lengthAdjust="spacingAndGlyphs">umwelt</text>
        <text x={802} y={1342} fontFamily="Lato, 'Open Sans', sans-serif" fontWeight="300" fontSize={26} fill="#444" textLength={129} lengthAdjust="spacingAndGlyphs">bundesamt</text>
        <circle cx={936} cy={1322.5} r={5.2} fill="none" stroke={ILLMITZ_COLOR} strokeWidth={3} />
        <text x={936} y={1326} textAnchor="middle" fontFamily={FONT} fontWeight="bold" fontSize={8} fill={ILLMITZ_COLOR}>u</text>
      </svg>
    </div>
  );
}
